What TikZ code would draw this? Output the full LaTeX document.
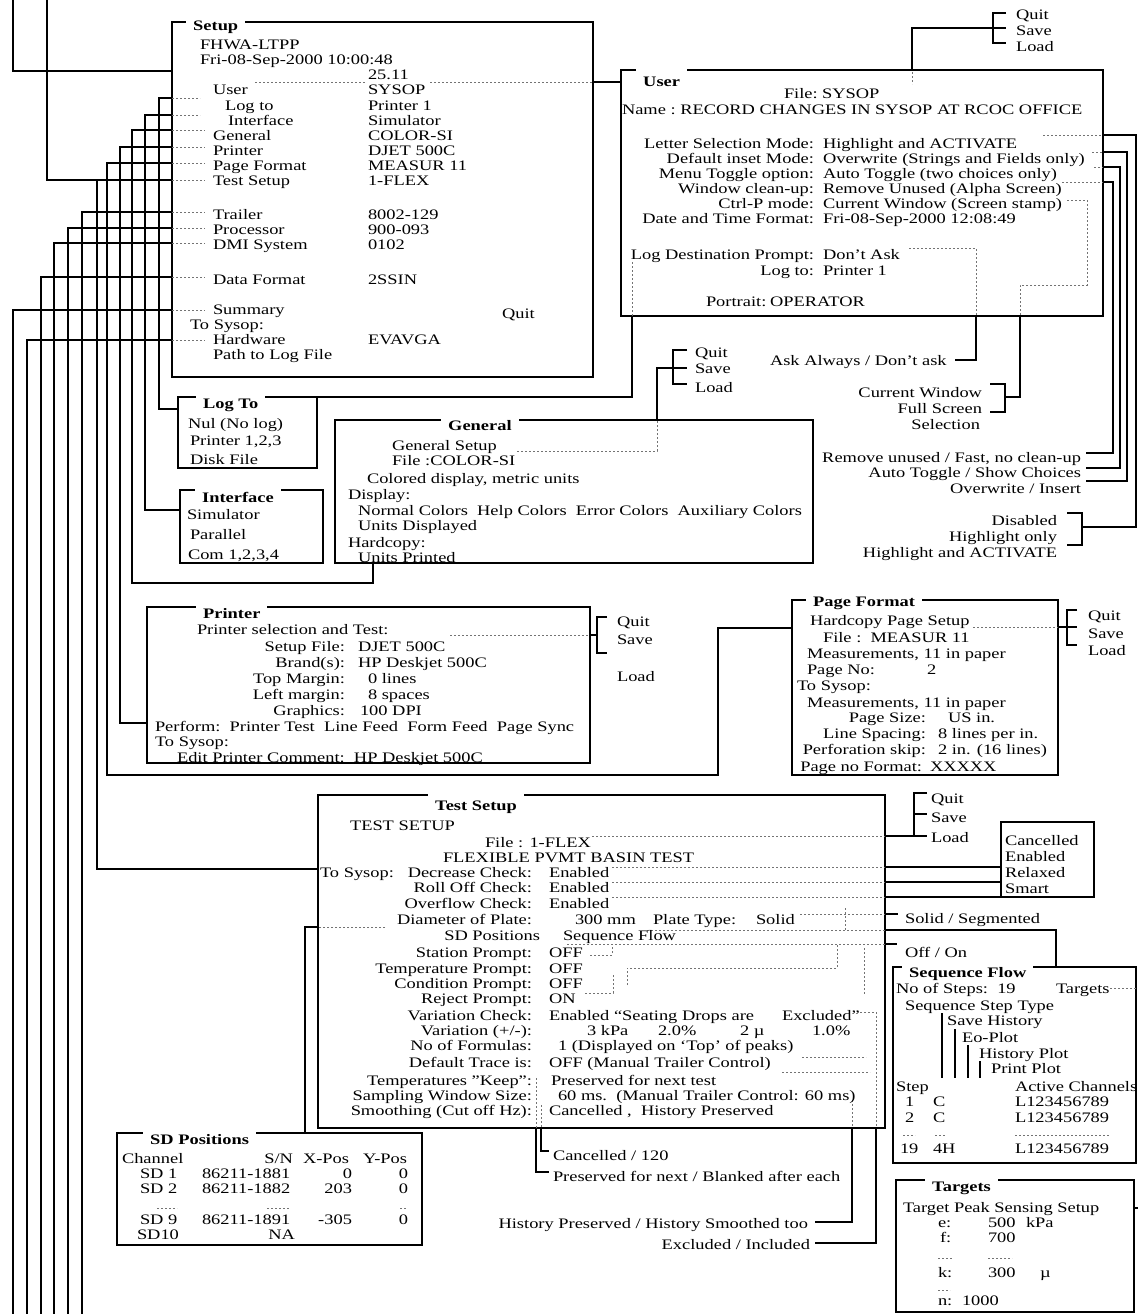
\documentclass[tikz,border=0pt]{standalone}
\usepackage{fontspec}
\setmainfont{Liberation Serif}[FakeStretch=1.27]
\newcounter{tn}
\newcommand\TxL[3]{\stepcounter{tn}\node[txl] (t\arabic{tn}) at (#1,#2) {#3};}
\newcommand\TxR[3]{\stepcounter{tn}\node[txr] (t\arabic{tn}) at (#1,#2) {#3};}
\newcommand\Frm[5]{\node[frm, minimum width={(#4-#2)*1pt}, minimum height={(#5-#3)*1pt}] (#1) at (#2,#3) {};}
\tikzset{
  txt/.style={font=\fontsize{14.5}{14}\selectfont, inner sep=0pt, outer sep=0pt, text=black},
  txl/.style={txt, anchor=base west},
  txr/.style={txt, anchor=base east},
  frm/.style={draw, line width=1.5pt, inner sep=0pt, outer sep=0pt, anchor=north west},
  ttl/.style={anchor=base west, fill=white, font=\bfseries\fontsize{14.5}{14}\selectfont, inner xsep=7pt, inner ysep=1pt, text height=17pt, text depth=4pt},
  wire/.style={line width=1.5pt},
  dotl/.style={line width=0.9pt, black!55, dash pattern=on 2pt off 2pt},
}
\begin{document}
\begin{tikzpicture}[x=1pt,y=-1pt]
\fill[white] (0,0) rectangle (1138,1314);
\useasboundingbox (0,0) rectangle (1138,1314);

% ---------- frames ----------
\Frm{setup}{172}{22}{593}{377}
\Frm{user}{621}{70}{1103}{316}
\Frm{logto}{178}{397}{317}{468}
\Frm{iface}{180}{490}{323}{563}
\Frm{general}{335}{420}{813}{563}
\Frm{printer}{147}{607}{590}{763}
\Frm{pagefmt}{792}{600}{1058}{775}
\Frm{test}{318}{795}{885}{1128}
\Frm{canc}{1001}{822}{1094}{897}
\Frm{sdpos}{117}{1133}{422}{1245}
\Frm{seqflow}{893}{967}{1136}{1163}
\Frm{targets}{896}{1180}{1134}{1312}

% ---------- free ends ----------
\coordinate (top1) at (13,0);
\coordinate (top2) at (47,0);
\coordinate (bot1) at (82,1314);
\coordinate (bot2) at (68,1314);
\coordinate (bot3) at (54,1314);
\coordinate (bot4) at (41,1314);
\coordinate (bot5) at (13,1314);
\coordinate (bot6) at (27,1314);
\coordinate (redge) at (1138,1208);

% ---------- left bundle ----------
\draw[wire] (top1) -- (13,71) -- (setup.west |- 0,71);
\draw[wire] (top2) -- (47,180) -- (setup.west |- 0,180);
\draw[wire] (setup.west |- 0,98) -- (159,98) -- (159,409) -- (logto.west |- 0,409);
\draw[wire] (setup.west |- 0,115) -- (145,115) -- (145,510) -- (iface.west |- 0,510);
\draw[wire] (setup.west |- 0,130) -- (132,130) -- (132,583) -- (373,583) -- (general.south -| 373,0);
\draw[wire] (setup.west |- 0,147) -- (120,147) -- (120,723) -- (printer.west |- 0,723);
\draw[wire] (setup.west |- 0,163) -- (107,163) -- (107,775) -- (718,775) -- (718,628) -- (pagefmt.west |- 0,628);
\draw[wire] (setup.west |- 0,180) -- (97,180) -- (97,869) -- (test.west |- 0,869);
\draw[wire] (setup.west |- 0,212) -- (82,212) -- (bot1);
\draw[wire] (setup.west |- 0,228) -- (68,228) -- (bot2);
\draw[wire] (setup.west |- 0,243) -- (54,243) -- (bot3);
\draw[wire] (setup.west |- 0,277) -- (41,277) -- (bot4);
\draw[wire] (setup.west |- 0,310) -- (13,310) -- (bot5);
\draw[wire] (setup.west |- 0,340) -- (27,340) -- (bot6);
\foreach \y/\x in {98/200,115/200,130/205,147/205,163/205,180/205,212/205,228/205,243/205,277/205,310/205,340/205}
  \draw[dotl] (172,\y) -- (\x,\y);

% ---------- Setup -> User ----------
\draw[dotl] (255,82) -- (365,82);
\draw[dotl] (430,82) -- (setup.east |- 0,82);
\draw[wire] (setup.east |- 0,82) -- (user.west |- 0,82);

% ---------- User connectors ----------
\draw[dotl] (912,72) -- (912,84);
\draw[wire] (user.north -| 912,0) -- (912,28) -- (993,28);
\draw[wire] (1006,13) -- (993,13) -- (993,43) -- (1006,43);
\draw[wire] (993,28) -- (1006,28);

\draw[dotl] (1043,135) -- (1103,135);
\draw[wire] (user.east |- 0,135) -- (1136,135) -- (1136,527) -- (1082,527);
\draw[wire] (1067,513) -- (1082,513) -- (1082,545) -- (1067,545);
\draw[dotl] (1092,152) -- (1103,152);
\draw[wire] (user.east |- 0,152) -- (1127,152) -- (1127,481) -- (1086,481);
\draw[dotl] (1094,167) -- (1103,167);
\draw[wire] (user.east |- 0,167) -- (1120,167) -- (1120,468) -- (1086,468);
\draw[dotl] (1062,182) -- (1103,182);
\draw[wire] (user.east |- 0,182) -- (1113,182) -- (1113,453) -- (1086,453);

\draw[dotl] (1067,200) -- (1087,200) -- (1087,285) -- (1020,285) -- (1020,316);
\draw[wire] (user.south -| 1020,0) -- (1020,397) -- (1005,397);
\draw[wire] (990,384) -- (1005,384) -- (1005,412) -- (990,412);

\draw[dotl] (909,248) -- (976,248) -- (976,316);
\draw[wire] (user.south -| 976,0) -- (976,360) -- (955,360);

\draw[dotl] (632,262) -- (632,316);
\draw[wire] (user.south -| 632,0) -- (632,397) -- (logto.north east);

% ---------- General ----------
\draw[dotl] (517,451) -- (657,451) -- (657,420);
\draw[wire] (general.north -| 657,0) -- (657,368) -- (673,368);
\draw[wire] (687,350) -- (673,350) -- (673,384) -- (687,384);
\draw[wire] (673,368) -- (687,368);

% ---------- Printer ----------
\draw[dotl] (450,635) -- (printer.east |- 0,635);
\draw[wire] (printer.east |- 0,635) -- (597,635);
\draw[wire] (607,617) -- (597,617) -- (597,653) -- (607,653);

% ---------- Page Format ----------
\draw[dotl] (973,627) -- (pagefmt.east |- 0,627);
\draw[wire] (pagefmt.east |- 0,627) -- (1077,627);
\draw[wire] (1077,610) -- (1067,610) -- (1067,645) -- (1077,645);

% ---------- Test Setup ----------
\draw[dotl] (592,836) -- (test.east |- 0,836);
\draw[wire] (test.east |- 0,836) -- (927,836);
\draw[wire] (927,793) -- (914,793) -- (914,836);
\draw[wire] (914,814) -- (927,814);

\foreach \y in {867,882,897}{
  \draw[dotl] (612,\y) -- (test.east |- 0,\y);
  \draw[wire] (test.east |- 0,\y) -- (canc.west |- 0,\y);
}
\draw[dotl] (800,914) -- (test.east |- 0,914);
\draw[dotl] (845,908) -- (845,930);
\draw[wire] (test.east |- 0,914) -- (898,914);
\draw[dotl] (647,930) -- (test.east |- 0,930);
\draw[wire] (test.east |- 0,930) -- (1056,930) -- (seqflow.north -| 1056,0);
\draw[dotl] (567,944) -- (test.east |- 0,944);
\draw[wire] (test.east |- 0,944) -- (897,944);
\draw[dotl] (590,955) -- (612,955) -- (612,944);
\draw[dotl] (627,985) -- (627,968) -- (837,968) -- (837,944);
\draw[dotl] (585,993) -- (613,993) -- (613,975);
\draw[dotl] (864,948) -- (864,995);
\draw[dotl] (802,1057) -- (866,1057);
\draw[dotl] (782,1072) -- (870,1072);
\draw[dotl] (385,927) -- (test.west |- 0,927);
\draw[wire] (test.west |- 0,927) -- (305,927) -- (sdpos.north -| 305,0);

\draw[dotl] (541,1105) -- (541,1128);
\draw[wire] (test.south -| 541,0) -- (541,1151) -- (549,1151);
\draw[dotl] (536,1078) -- (536,1128);
\draw[wire] (test.south -| 536,0) -- (536,1172) -- (549,1172);
\draw[dotl] (852,1100) -- (852,1128);
\draw[wire] (test.south -| 852,0) -- (852,1222) -- (815,1222);
\draw[dotl] (860,1012) -- (876,1012) -- (876,1128);
\draw[wire] (test.south -| 876,0) -- (876,1243) -- (815,1243);

% ---------- Sequence flow / targets ----------
\draw[dotl] (1110,988) -- (1136,988);
\draw[wire, line width=1.2pt] (942,1013) -- (942,1078);
\draw[wire, line width=1.2pt] (955,1029) -- (955,1078);
\draw[wire, line width=1.2pt] (968,1045) -- (968,1078);
\draw[wire, line width=1.2pt] (980,1061) -- (980,1078);
\draw[dotl] (903,1135) -- (915,1135);
\draw[dotl] (935,1135) -- (945,1135);
\draw[dotl] (1015,1135) -- (1110,1135);
\draw[wire] (targets.east |- 0,1208) -- (redge);
\draw[dotl] (938,1258) -- (952,1258);
\draw[dotl] (988,1258) -- (1012,1258);
\draw[dotl] (938,1290) -- (950,1290);
\draw[dotl] (157,1208) -- (177,1208);
\draw[dotl] (267,1208) -- (290,1208);
\draw[dotl] (400,1208) -- (406,1208);

% ---------- titles ----------
\node[ttl] (setupT) at (186,31) {Setup};
\node[ttl] (userT) at (636,86) {User};
\node[ttl] (logtoT) at (196,408) {Log To};
\node[ttl] (ifaceT) at (195,502) {Interface};
\node[ttl] (generalT) at (441,430) {General};
\node[ttl] (printerT) at (196,618) {Printer};
\node[ttl] (pagefmtT) at (806,606) {Page Format};
\node[ttl] (testT) at (428,810) {Test Setup};
\node[ttl] (sdposT) at (143,1144) {SD Positions};
\node[ttl] (seqT) at (902,977) {Sequence Flow};
\node[ttl] (targT) at (925,1191) {Targets};

% ---------- Setup texts ----------
\TxL{200}{50}{FHWA-LTPP}
\TxL{200}{65}{Fri-08-Sep-2000 10:00:48}
\TxL{368}{79}{25.11}
\TxL{213}{95}{User} \TxL{368}{95}{SYSOP}
\TxL{225}{110}{Log to} \TxL{368}{110}{Printer 1}
\TxL{228}{125}{Interface} \TxL{368}{125}{Simulator}
\TxL{213}{140}{General} \TxL{368}{140}{COLOR-SI}
\TxL{213}{155}{Printer} \TxL{368}{155}{DJET 500C}
\TxL{213}{170}{Page Format} \TxL{368}{170}{MEASUR 11}
\TxL{213}{185}{Test Setup} \TxL{368}{185}{1-FLEX}
\TxL{213}{219}{Trailer} \TxL{368}{219}{8002-129}
\TxL{213}{234}{Processor} \TxL{368}{234}{900-093}
\TxL{213}{249}{DMI System} \TxL{368}{249}{0102}
\TxL{213}{284}{Data Format} \TxL{368}{284}{2SSIN}
\TxL{213}{314}{Summary} \TxL{502}{318}{Quit}
\TxL{190}{329}{To Sysop:}
\TxL{213}{344}{Hardware} \TxL{368}{344}{EVAVGA}
\TxL{213}{359}{Path to Log File}

% ---------- User texts ----------
\TxL{1016}{20}{Quit} \TxL{1016}{36}{Save} \TxL{1016}{52}{Load}
\TxL{784}{99}{File:} \TxL{822}{99}{SYSOP}
\TxL{622}{114}{Name :~RECORD CHANGES IN SYSOP AT RCOC OFFICE}
\TxR{814}{148}{Letter Selection Mode:} \TxL{823}{148}{Highlight and ACTIVATE}
\TxR{814}{163}{Default inset Mode:} \TxL{823}{163}{Overwrite (Strings and Fields only)}
\TxR{814}{178}{Menu Toggle option:} \TxL{823}{178}{Auto Toggle (two choices only)}
\TxR{814}{193}{Window clean-up:} \TxL{823}{193}{Remove Unused (Alpha Screen)}
\TxR{814}{208}{Ctrl-P mode:} \TxL{823}{208}{Current Window (Screen stamp)}
\TxR{814}{223}{Date and Time Format:} \TxL{823}{223}{Fri-08-Sep-2000 12:08:49}
\TxR{814}{259}{Log Destination Prompt:} \TxL{823}{259}{Don't Ask}
\TxR{814}{275}{Log to:} \TxL{823}{275}{Printer 1}
\TxL{706}{306}{Portrait:} \TxL{770}{306}{OPERATOR}

\TxL{695}{357}{Quit} \TxL{695}{373}{Save} \TxL{695}{392}{Load}
\TxL{770}{365}{Ask Always / Don't ask}
\TxR{982}{397}{Current Window}
\TxR{982}{413}{Full Screen}
\TxR{980}{429}{Selection}
\TxR{1081}{462}{Remove unused / Fast, no clean-up}
\TxR{1081}{477}{Auto Toggle / Show Choices}
\TxR{1081}{493}{Overwrite / Insert}
\TxR{1057}{525}{Disabled}
\TxR{1057}{541}{Highlight only}
\TxR{1057}{557}{Highlight and ACTIVATE}

% ---------- Log To / Interface ----------
\TxL{188}{428}{Nul (No log)} \TxL{190}{445}{Printer 1,2,3} \TxL{190}{464}{Disk File}
\TxL{187}{519}{Simulator} \TxL{190}{539}{Parallel} \TxL{188}{559}{Com 1,2,3,4}

% ---------- General ----------
\TxL{392}{450}{General Setup}
\TxL{392}{465}{File :COLOR-SI}
\TxL{367}{483}{Colored display, metric units}
\TxL{348}{499}{Display:}
\TxL{358}{515}{Normal Colors~~Help Colors~~Error Colors~~Auxiliary Colors}
\TxL{358}{530}{Units Displayed}
\TxL{348}{547}{Hardcopy:}
\TxL{358}{562}{Units Printed}

% ---------- Printer ----------
\TxL{197}{634}{Printer selection and Test:}
\TxR{345}{651}{Setup File:} \TxL{358}{651}{DJET 500C}
\TxR{345}{667}{Brand(s):} \TxL{358}{667}{HP Deskjet 500C}
\TxR{345}{683}{Top Margin:} \TxL{368}{683}{0 lines}
\TxR{345}{699}{Left margin:} \TxL{368}{699}{8 spaces}
\TxR{345}{715}{Graphics:} \TxL{360}{715}{100 DPI}
\TxL{155}{731}{Perform:~~Printer Test~~Line Feed~~Form Feed~~Page Sync}
\TxL{155}{746}{To Sysop:}
\TxL{177}{762}{Edit Printer Comment:~~HP Deskjet 500C}
\TxL{617}{626}{Quit} \TxL{617}{644}{Save} \TxL{617}{681}{Load}

% ---------- Page Format ----------
\TxL{810}{625}{Hardcopy Page Setup}
\TxL{823}{642}{File :~~MEASUR 11}
\TxL{807}{658}{Measurements, 11 in paper}
\TxL{807}{674}{Page No:} \TxL{927}{674}{2}
\TxL{797}{690}{To Sysop:}
\TxL{807}{707}{Measurements, 11 in paper}
\TxR{926}{722}{Page Size:} \TxL{948}{722}{US in.}
\TxR{926}{738}{Line Spacing:} \TxL{938}{738}{8 lines per in.}
\TxR{926}{754}{Perforation skip:} \TxL{938}{754}{2 in. (16 lines)}
\TxR{922}{771}{Page no Format:} \TxL{930}{771}{XXXXX}
\TxL{1088}{620}{Quit} \TxL{1088}{638}{Save} \TxL{1088}{655}{Load}

% ---------- Test Setup ----------
\TxL{350}{830}{TEST SETUP}
\TxL{485}{847}{File : 1-FLEX}
\TxL{443}{862}{FLEXIBLE PVMT BASIN TEST}
\TxL{320}{877}{To Sysop:}
\TxR{532}{877}{Decrease Check:} \TxL{549}{877}{Enabled}
\TxR{532}{892}{Roll Off Check:} \TxL{549}{892}{Enabled}
\TxR{532}{908}{Overflow Check:} \TxL{549}{908}{Enabled}
\TxR{532}{924}{Diameter of Plate:} \TxL{575}{924}{300 mm} \TxL{653}{924}{Plate Type:} \TxL{756}{924}{Solid}
\TxR{540}{940}{SD Positions} \TxL{563}{940}{Sequence Flow}
\TxR{532}{957}{Station Prompt:} \TxL{549}{957}{OFF}
\TxR{532}{973}{Temperature Prompt:} \TxL{549}{973}{OFF}
\TxR{532}{988}{Condition Prompt:} \TxL{549}{988}{OFF}
\TxR{532}{1003}{Reject Prompt:} \TxL{549}{1003}{ON}
\TxR{532}{1020}{Variation Check:} \TxL{549}{1020}{Enabled} \TxL{614}{1020}{``Seating Drops are} \TxL{782}{1020}{Excluded''}
\TxR{532}{1035}{Variation (+/-):} \TxL{587}{1035}{3 kPa} \TxL{658}{1035}{2.0\%} \TxL{740}{1035}{2 µ} \TxL{812}{1035}{1.0\%}
\TxR{532}{1050}{No of Formulas:} \TxL{558}{1050}{1 (Displayed on `Top' of peaks)}
\TxR{532}{1067}{Default Trace is:} \TxL{549}{1067}{OFF (Manual Trailer Control)}
\TxR{532}{1085}{Temperatures "Keep":} \TxL{551}{1085}{Preserved for next test}
\TxR{532}{1100}{Sampling Window Size:} \TxL{558}{1100}{60 ms.~~(Manual Trailer Control: 60 ms)}
\TxR{532}{1115}{Smoothing (Cut off Hz):} \TxL{549}{1115}{Cancelled ,~~History Preserved}
\TxL{931}{803}{Quit} \TxL{931}{822}{Save} \TxL{931}{842}{Load}
\TxL{1005}{845}{Cancelled} \TxL{1005}{861}{Enabled} \TxL{1005}{877}{Relaxed} \TxL{1005}{893}{Smart}
\TxL{905}{923}{Solid / Segmented}
\TxL{905}{957}{Off / On}
\TxL{553}{1160}{Cancelled / 120}
\TxL{553}{1181}{Preserved for next / Blanked after each}
\TxR{808}{1228}{History Preserved / History Smoothed too}
\TxR{810}{1249}{Excluded / Included}

% ---------- SD Positions ----------
\TxL{122}{1163}{Channel} \TxR{293}{1163}{S/N} \TxL{303}{1163}{X-Pos} \TxL{363}{1163}{Y-Pos}
\TxL{140}{1178}{SD 1} \TxL{202}{1178}{86211-1881} \TxR{352}{1178}{0} \TxR{408}{1178}{0}
\TxL{140}{1193}{SD 2} \TxL{202}{1193}{86211-1882} \TxR{352}{1193}{203} \TxR{408}{1193}{0}
\TxL{140}{1224}{SD 9} \TxL{202}{1224}{86211-1891} \TxR{352}{1224}{-305} \TxR{408}{1224}{0}
\TxL{137}{1239}{SD10} \TxR{295}{1239}{NA}

% ---------- Sequence Flow ----------
\TxL{896}{993}{No of Steps:~~19} \TxL{1056}{993}{Targets}
\TxL{905}{1010}{Sequence Step Type}
\TxL{947}{1025}{Save History}
\TxL{962}{1042}{Eo-Plot}
\TxL{979}{1058}{History Plot}
\TxL{991}{1073}{Print Plot}
\TxL{896}{1091}{Step} \TxL{1015}{1091}{Active Channels}
\TxL{905}{1106}{1} \TxL{933}{1106}{C} \TxL{1015}{1106}{L123456789}
\TxL{905}{1122}{2} \TxL{933}{1122}{C} \TxL{1015}{1122}{L123456789}
\TxL{900}{1153}{19} \TxL{933}{1153}{4H} \TxL{1015}{1153}{L123456789}

% ---------- Targets ----------
\TxL{903}{1212}{Target Peak Sensing Setup}
\TxL{938}{1227}{e:} \TxL{988}{1227}{500} \TxL{1026}{1227}{kPa}
\TxL{940}{1242}{f:} \TxL{988}{1242}{700}
\TxL{938}{1277}{k:} \TxL{988}{1277}{300} \TxL{1040}{1277}{µ}
\TxL{938}{1305}{n:} \TxL{962}{1305}{1000}
\end{tikzpicture}
\end{document}
